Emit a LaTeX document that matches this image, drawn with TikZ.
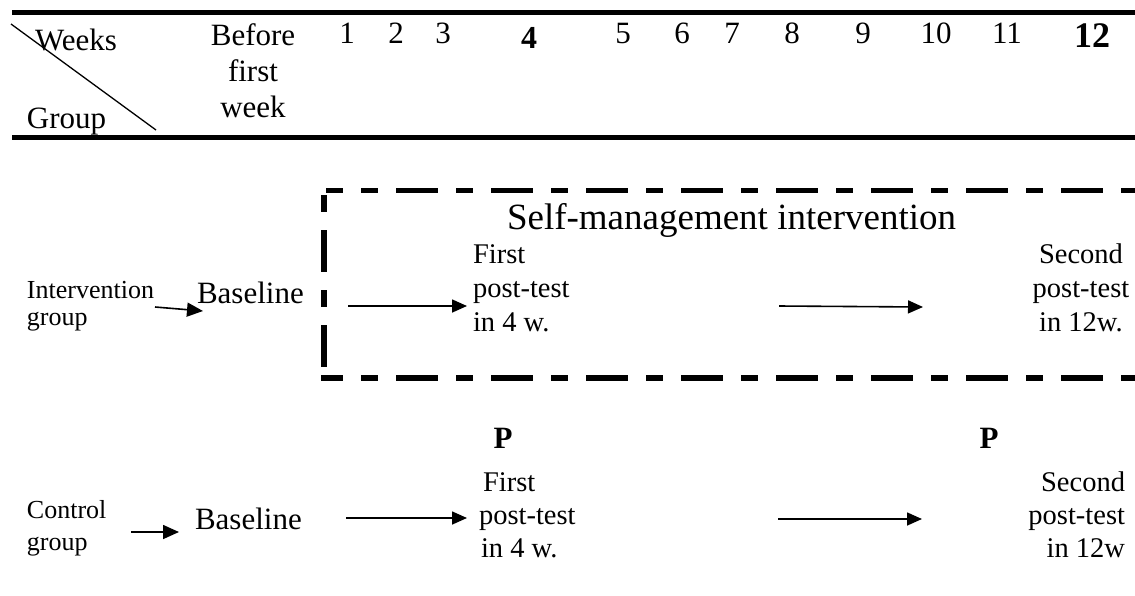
\documentclass[tikz,border=0pt]{standalone}
\usepackage{fontspec}
\setmainfont{Liberation Serif}
\usetikzlibrary{arrows.meta}
\newcommand{\fs}[2]{\fontsize{#1}{#2}\selectfont}
\begin{document}
\begin{tikzpicture}[x=1pt,y=-1pt,
  txt/.style={inner sep=0pt, outer sep=0pt},
  rule/.style={line width=5pt},
  boxline/.style={line width=5.5pt, dash pattern=on 42pt off 18pt on 17pt off 18pt},
  arr/.style={line width=1.6pt, -{Triangle[length=15pt,width=13pt]}},
  small/.style={line width=1.6pt, -{Triangle[length=16pt,width=14pt]}}]
\useasboundingbox (0,0) rectangle (1135,595);

% table header rules and corner cell
\coordinate (r1a) at (12,12.5);   \coordinate (r1b) at (1135,12.5);
\coordinate (r2a) at (12,137.5);  \coordinate (r2b) at (1135,137.5);
\draw[rule] (r1a) -- (r1b);
\draw[rule] (r2a) -- (r2b);
\coordinate (dg1) at (11,24); \coordinate (dg2) at (156,130);
\draw[line width=1.3pt] (dg1) -- (dg2);

\node[txt, anchor=base west, font=\fs{31}{36}] (weeks) at (35,50) {Weeks};
\node[txt, anchor=base west, font=\fs{31}{36}] (group) at (27,128) {Group};
\node[txt, anchor=base, align=center, font=\fs{31}{36}] (before) at (253,117) {Before\\first\\week};

% week numbers
\foreach \n/\x in {1/347,2/396,3/443,5/623,6/682,7/732,8/792,9/863,10/936,11/1007}
  \node[txt, anchor=base, font=\fs{31}{36}] (w\n) at (\x,43.5) {\n};
\node[txt, anchor=base, font=\fs{32}{36}\bfseries] (w4) at (529,48) {4};
\node[txt, anchor=base, font=\fs{36}{40}\bfseries] (w12) at (1092,47.5) {12};

% dashed frame of the intervention period
\coordinate (bt1) at (326,190.5); \coordinate (bt2) at (1140,190.5);
\coordinate (bl1) at (324,195);   \coordinate (bl2) at (324,368);
\coordinate (bb1) at (321,378);   \coordinate (bb2) at (1140,378);
\draw[boxline, dash phase=25pt] (bt1) -- (bt2);
\draw[boxline, dash phase=60pt, line width=6.5pt] (bl1) -- (bl2);
\draw[boxline, dash phase=20pt] (bb1) -- (bb2);
\node[txt, anchor=base west, font=\fs{37}{40}] (sm) at (507,229) {Self-management intervention};

% intervention group row
\node[txt, anchor=base west, align=left, font=\fs{26}{27}] (ilab) at (27,325) {Intervention\\group};
\node[txt, anchor=base west, font=\fs{31}{36}] (ibase) at (197,303) {Baseline};
\node[txt, anchor=base west, align=left, font=\fs{28.5}{34}] (ifirst) at (473,331) {First\\post-test\\in 4 w.};
\node[txt, anchor=base, align=center, font=\fs{28.5}{34}] (isecond) at (1081,331) {Second\\post-test\\in 12w.};
\coordinate (ia1) at (155,307); \coordinate (ia2) at (203,311);
\coordinate (ib1) at (348,306); \coordinate (ib2) at (467,306);
\coordinate (ic1) at (779,306); \coordinate (ic2) at (923,307);
\draw[small] (ia1) -- (ia2);
\draw[arr] (ib1) -- (ib2);
\draw[arr] (ic1) -- (ic2);

% control group row
\node[txt, anchor=base, font=\fs{31}{36}\bfseries] (p1) at (503,448) {P};
\node[txt, anchor=base, font=\fs{31}{36}\bfseries] (p2) at (989,448) {P};
\node[txt, anchor=base west, align=left, font=\fs{26}{32}] (clab) at (27,550) {Control\\group};
\node[txt, anchor=base west, font=\fs{31}{36}] (cbase) at (195,529) {Baseline};
\node[txt, anchor=base west, align=left, font=\fs{28.5}{33}] (cfirst) at (479,557) {\hspace*{4pt}First\\post-test\\\hspace*{2pt}in 4 w.};
\node[txt, anchor=base east, align=right, font=\fs{28.5}{33}] (csecond) at (1125,557) {Second\\post-test\\in 12w};
\coordinate (ca1) at (131,532); \coordinate (ca2) at (179,532);
\coordinate (cb1) at (346,518); \coordinate (cb2) at (467,518);
\coordinate (cc1) at (778,519); \coordinate (cc2) at (922,519);
\draw[small] (ca1) -- (ca2);
\draw[arr] (cb1) -- (cb2);
\draw[arr] (cc1) -- (cc2);
\end{tikzpicture}
\end{document}
